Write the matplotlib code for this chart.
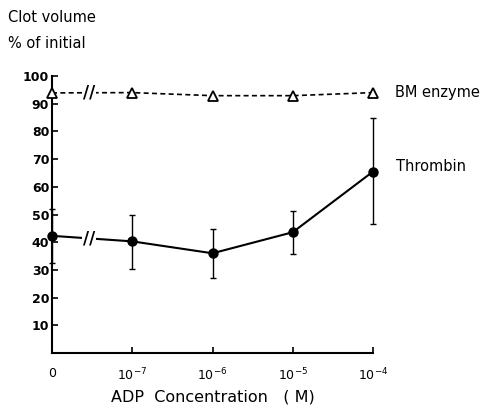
import matplotlib
matplotlib.use("Agg")
import matplotlib.pyplot as plt

# Data
x_labels = ["0", r"10$^{-7}$", r"10$^{-6}$", r"10$^{-5}$", r"10$^{-4}$"]
x_pos = [0, 1, 2, 3, 4]
thrombin = [42.3, 40.3, 36.0, 43.6, 65.5]
thrombin_err_low = [32.5, 30.2, 27.0, 35.6, 46.5]
thrombin_err_high = [52.0, 49.8, 44.7, 51.4, 85.0]
bm_enzyme = [93.9, 94.0, 92.9, 92.9, 94.0]
y_ticks = [10, 20, 30, 40, 50, 60, 70, 80, 90, 100]

plt.rcParams['font.family'] = ['DejaVu Sans']

fig = plt.figure(figsize=(4.88, 4.11), dpi=100)
ax = fig.add_axes([52/488, 1-353/411, (373-52)/488, 277/411])

ax.set_xlim(0, 4)
ax.set_ylim(0, 100)

lo = [t - l for t, l in zip(thrombin, thrombin_err_low)]
hi = [h - t for t, h in zip(thrombin, thrombin_err_high)]
ax.errorbar(x_pos, thrombin, yerr=[lo, hi], fmt='none', ecolor='black',
            elinewidth=1.0, capsize=2.5, capthick=1.0, clip_on=False, zorder=3)
ax.plot(x_pos, thrombin, color='black', lw=1.5, marker='o', markersize=6.5,
        clip_on=False, zorder=4)
ax.plot(x_pos, bm_enzyme, color='black', lw=1.2, linestyle=(0, (3, 2)),
        marker='^', markersize=7.5, markerfacecolor='white', markeredgewidth=1.3,
        clip_on=False, zorder=4)

# axis break marks
for yv in [(thrombin[0] + thrombin[1]) / 2, (bm_enzyme[0] + bm_enzyme[1]) / 2]:
    ax.text(0.46, yv, "//", ha='center', va='center', fontsize=12,
            fontweight='bold',
            bbox=dict(facecolor='white', edgecolor='none', pad=0.5), zorder=5)

ax.spines['top'].set_visible(False)
ax.spines['right'].set_visible(False)
ax.spines['left'].set_linewidth(1.5)
ax.spines['bottom'].set_linewidth(1.5)

ax.set_xticks(x_pos)
ax.set_xticklabels(x_labels, fontsize=9)
ax.set_yticks(y_ticks)
ax.set_yticklabels([str(v) for v in y_ticks], fontsize=9, fontweight='bold')
ax.tick_params(axis='both', direction='in', length=4, width=1.2)
ax.tick_params(axis='x', pad=10)
ax.tick_params(axis='y', pad=2)

ax.set_xlabel("ADP  Concentration   ( M)", fontsize=11.5, labelpad=4)

fig.text(8/488, 1-18/411, "Clot volume", fontsize=10.5, va='center', ha='left')
fig.text(8/488, 1-44/411, "% of initial", fontsize=10.5, va='center', ha='left')

ax.text(4.27, bm_enzyme[4], "BM enzyme", fontsize=10.5, va='center', ha='left',
        clip_on=False)
ax.text(4.29, 67.5, "Thrombin", fontsize=10.5, va='center', ha='left',
        clip_on=False)

fig.savefig("out.png", dpi=100)
